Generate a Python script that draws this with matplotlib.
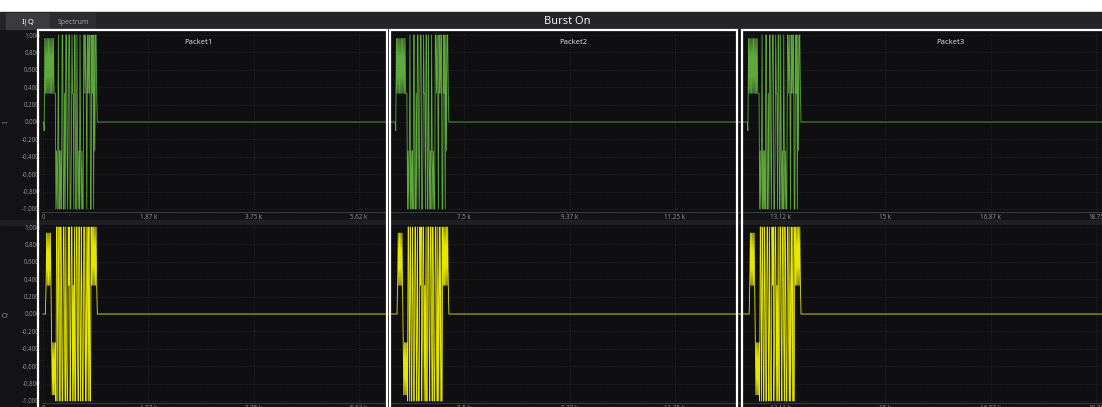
import matplotlib
matplotlib.use('Agg')
import matplotlib.pyplot as plt
import numpy as np
from matplotlib.patches import Rectangle
from matplotlib.transforms import blended_transform_factory

# ---- data ----
record_length = 18856          # samples shown on the x axis
sps = 11                       # samples between points of the burst
burst_starts = [10, 6270, 12540]
packet_names = ['Packet1', 'Packet2', 'Packet3']
packet_label_x = [2760, 9440, 16150]
box_left = [-94, 6180, 12440]
box_right = [6120, 12352, 18900]

# one burst of I (green) and Q (yellow), same in every packet
i_burst = [0, -0.1,
           0.96, 0.33, 0.96, 0.33, 0.96, 0.33, 0.96, 0.33,
           0.96, 0.33, 0.96, 0.33, 0.96, 0.33, 0.96, 0.33,
           0.33, 0.33, -1.0,
           -0.33, -1.0, -0.33, 1.0, -1.0, -0.33, -1.0, -0.33, -1.0, 1.0, 1.0,
           -1.0, -1.0, 0.33, -1.0, 1.0, 1.0, -0.33, -1.0, 0.33, 1.0, 1.0, -1.0,
           -1.0, -0.33, 1.0, 0.33, 0.33, -1.0, 1.0, 1.0, -1.0, -1.0, 1.0,
           -0.33, -1.0, -0.33, -1.0, 1.0, -0.33, -1.0, -0.33, -1.0, -1.0, 1.0,
           1.0, 0.33, 1.0, 0.33, -1.0, 1.0, 0.33, 1.0, 0.33, 1.0, -1.0,
           -1.0, 1.0, 0.33, 1.0, -1.0, 1.0, -0.33, 1.0, 1.0, 0.33,
           0.0]
q_burst = [0, 0, 0, 0, 0.33,
           0.93, 0.33, 0.93, 0.33, 0.93, 0.33, 0.93, 0.33,
           -0.33, -0.93, -0.33, -0.93, -0.33, -0.93, -0.33, -1.0,
           1.0, 1.0, -1.0, 0.33, 1.0, -1.0, -1.0, 1.0, 0.33, -1.0,
           -1.0, 1.0, 1.0, -0.33, -1.0, 1.0, -0.33, -1.0, -1.0, 1.0,
           0.33, 1.0, -1.0, -0.33, 1.0, 1.0, -1.0, 0.33, -1.0, 1.0,
           -1.0, -1.0, 1.0, 1.0, -0.33, -1.0, 1.0, 1.0, -0.33, -1.0,
           1.0, 0.33, -1.0, -1.0, 1.0, 1.0, -0.33, -1.0, 1.0, -1.0,
           0.33, 1.0, -1.0, 1.0,
           -1.0, -1.0, 1.0, 0.33,
           1.0, 0.33, 1.0, 0.33, 1.0, 0.33, 1.0, 0.33,
           0.0]

x_ticks = [0, 1875, 3750, 5625, 7500, 9375, 11250, 13125, 15000, 16875, 18750]
x_tick_labels = ['0', '1.87 k', '3.75 k', '5.62 k', '7.5 k', '9.37 k',
                 '11.25 k', '13.12 k', '15 k', '16.87 k', '18.75']
y_ticks = [1.0, 0.8, 0.6, 0.4, 0.2, 0.0, -0.2, -0.4, -0.6, -0.8, -1.0]
y_tick_labels = ['1.000', '0.800', '0.600', '0.400', '0.200', '0.000',
                 '-0.200', '-0.400', '-0.600', '-0.800', '-1.000']


def build_trace(burst):
    t, v = [0], [0.0]
    for start in burst_starts:
        t.extend(start + np.arange(len(burst)) * sps)
        v.extend(burst)
    t.append(record_length)
    v.append(0.0)
    return np.array(t), np.array(v)


W, H = 1102, 407
def fx(x):
    return x / W
def fy(y):
    return 1 - y / H

plt.rcParams['font.family'] = ['Noto Sans', 'DejaVu Sans']

fig = plt.figure(figsize=(W / 100, H / 100), dpi=100)
fig.patch.set_facecolor('#131316')

# white strip on top, header bar and tabs
fig.add_artist(Rectangle((0, fy(12)), 1, 12 / H, transform=fig.transFigure,
                         color='white', zorder=0))
fig.add_artist(Rectangle((0, fy(29)), 1, 17 / H, transform=fig.transFigure,
                         color='#242427', zorder=0))
fig.add_artist(Rectangle((fx(6), fy(29)), 44 / W, 16 / H, transform=fig.transFigure,
                         color='#3b3b3f', zorder=0))
fig.add_artist(Rectangle((fx(50), fy(29)), 45 / W, 16 / H, transform=fig.transFigure,
                         color='#2d2d31', zorder=0))
fig.text(fx(28), fy(22), 'I|Q', color='white', fontsize=5.5, fontweight='bold',
         ha='center', va='center')
fig.text(fx(73), fy(22.5), 'Spectrum', color='#a0a0a0', fontsize=5,
         ha='center', va='center')
fig.text(fx(567), fy(21), 'Burst On', color='#f2f2f2', fontsize=8,
         ha='center', va='center')

# separator strip between I and Q
fig.add_artist(Rectangle((0, fy(225)), 1, 5 / H, transform=fig.transFigure,
                         color='#202024', zorder=0))

ax_i = fig.add_axes([fx(42), fy(212), 1 - fx(42), 180 / H])
ax_q = fig.add_axes([fx(42), fy(403), 1 - fx(42), 178 / H])

traces = [(ax_i, i_burst, '#5fa83c', 'I', 1.0345),
          (ax_q, q_burst, '#e6e600', 'Q', 1.023)]

for ax, burst, color, name, lim in traces:
    ax.set_facecolor('#0f0f12')
    t, v = build_trace(burst)
    ax.plot(t, v, color=color, lw=0.6, zorder=3)
    ax.set_xlim(-18, record_length)
    ax.set_ylim(-lim, lim)
    ax.set_xticks(x_ticks)
    ax.set_xticklabels(x_tick_labels)
    ax.set_yticks(y_ticks)
    ax.set_yticklabels(y_tick_labels)
    ax.tick_params(length=0, labelsize=4.5, colors='#8c8c8c', pad=1.5)
    ax.grid(True, color='#2e2e33', lw=0.6, linestyle=(0, (1, 2)))
    for side in ['top', 'right', 'left']:
        ax.spines[side].set_visible(False)
    ax.spines['bottom'].set_color('#3a3a3e')
    ax.spines['bottom'].set_linewidth(0.8)
    ax.set_ylabel(name, color='#8c8c8c', fontsize=5, labelpad=9)

for name, x in zip(packet_names, packet_label_x):
    ax_i.text(x, 0.91, name, color='#d8d8d8', fontsize=5.5, ha='center', va='center')

# white packet boxes across both plots
trans = blended_transform_factory(ax_i.transData, fig.transFigure)
for left, right in zip(box_left, box_right):
    fig.add_artist(Rectangle((left, fy(440)), right - left, fy(29.5) - fy(440),
                             transform=trans, fill=False, ec='white', lw=1.6,
                             zorder=10, clip_on=False))

fig.savefig('out.png', dpi=100, facecolor=fig.get_facecolor())
